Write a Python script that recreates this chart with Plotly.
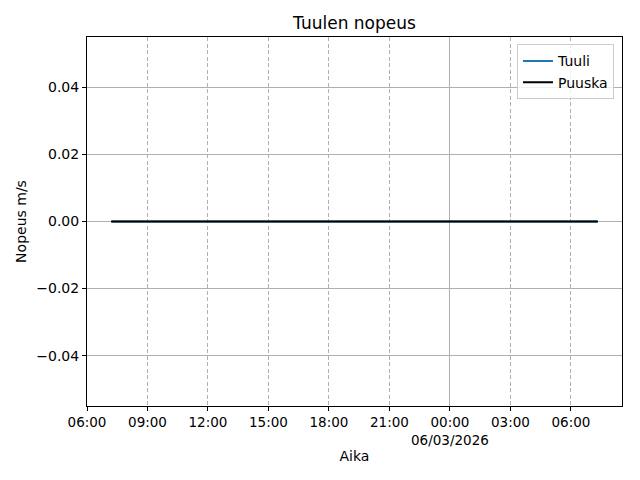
import plotly.graph_objects as go

# Data
times = ["2026-03-05 07:12", "2026-03-06 07:20"]
tuuli = [0.0, 0.0]
puuska = [0.0, 0.0]

x_ticks = ["2026-03-05 06:00", "2026-03-05 09:00", "2026-03-05 12:00", "2026-03-05 15:00",
           "2026-03-05 18:00", "2026-03-05 21:00", "2026-03-06 00:00", "2026-03-06 03:00",
           "2026-03-06 06:00"]
x_ticklabels = ["06:00", "09:00", "12:00", "15:00", "18:00", "21:00",
                "00:00<br>06/03/2026", "03:00", "06:00"]
day_ticks = ["2026-03-06 00:00"]
y_ticks = [-0.04, -0.02, 0.0, 0.02, 0.04]
y_ticklabels = ["\u22120.04", "\u22120.02", "0.00", "0.02", "0.04"]
x_range = ["2026-03-05 06:00", "2026-03-06 08:32"]
y_range = [-0.055, 0.055]

font = "DejaVu Sans"

fig = go.Figure()
fig.add_trace(go.Scatter(x=times, y=tuuli, mode="lines", name="Tuuli",
                         line=dict(color="#1f77b4", width=2)))
fig.add_trace(go.Scatter(x=times, y=puuska, mode="lines", name="Puuska",
                         line=dict(color="#000000", width=2)))
# invisible trace to anchor overlay axis for the day grid line
fig.add_trace(go.Scatter(x=times, y=tuuli, xaxis="x2", mode="lines",
                         line=dict(width=0), showlegend=False, hoverinfo="skip",
                         opacity=0))

fig.update_layout(
    width=640, height=480,
    margin=dict(l=87, r=18, t=37, b=74, autoexpand=False),
    paper_bgcolor="white", plot_bgcolor="white",
    font=dict(family=font, size=14, color="black"),
    title=dict(text="Tuulen nopeus", x=0.5, xanchor="center", xref="paper",
               y=1 - 23 / 480, yanchor="middle", font=dict(size=17)),
    xaxis=dict(type="date", range=x_range, tickvals=x_ticks, ticktext=x_ticklabels,
               tickfont=dict(size=13.5), tickangle=0,
               showgrid=True, gridcolor="#b0b0b0", griddash="4px,2.5px", gridwidth=1,
               showline=True, linecolor="black", linewidth=1, mirror=True,
               ticks="outside", ticklen=4, tickcolor="black", automargin=False,
               title=dict(text="Aika", standoff=4, font=dict(size=14)), zeroline=False),
    xaxis2=dict(type="date", range=x_range, overlaying="x", tickvals=day_ticks,
                showticklabels=False, ticks="", showgrid=True, gridcolor="#b0b0b0",
                gridwidth=1, zeroline=False, showline=False),
    yaxis=dict(range=y_range, tickvals=y_ticks, ticktext=y_ticklabels,
               tickfont=dict(size=14),
               showgrid=True, gridcolor="#b0b0b0", gridwidth=1,
               showline=True, linecolor="black", linewidth=1, mirror=True,
               ticks="outside", ticklen=4, tickcolor="black", automargin=False,
               title=dict(text="Nopeus m/s", standoff=6, font=dict(size=14)), zeroline=False),
    legend=dict(x=0.985, y=0.98, xanchor="right", yanchor="top",
                bordercolor="#cccccc", borderwidth=1, bgcolor="rgba(255,255,255,0.8)",
                font=dict(size=14), tracegroupgap=0),
)

fig.write_html("out.html", config={"displayModeBar": False},
               post_script="document.body.style.margin='0';")
